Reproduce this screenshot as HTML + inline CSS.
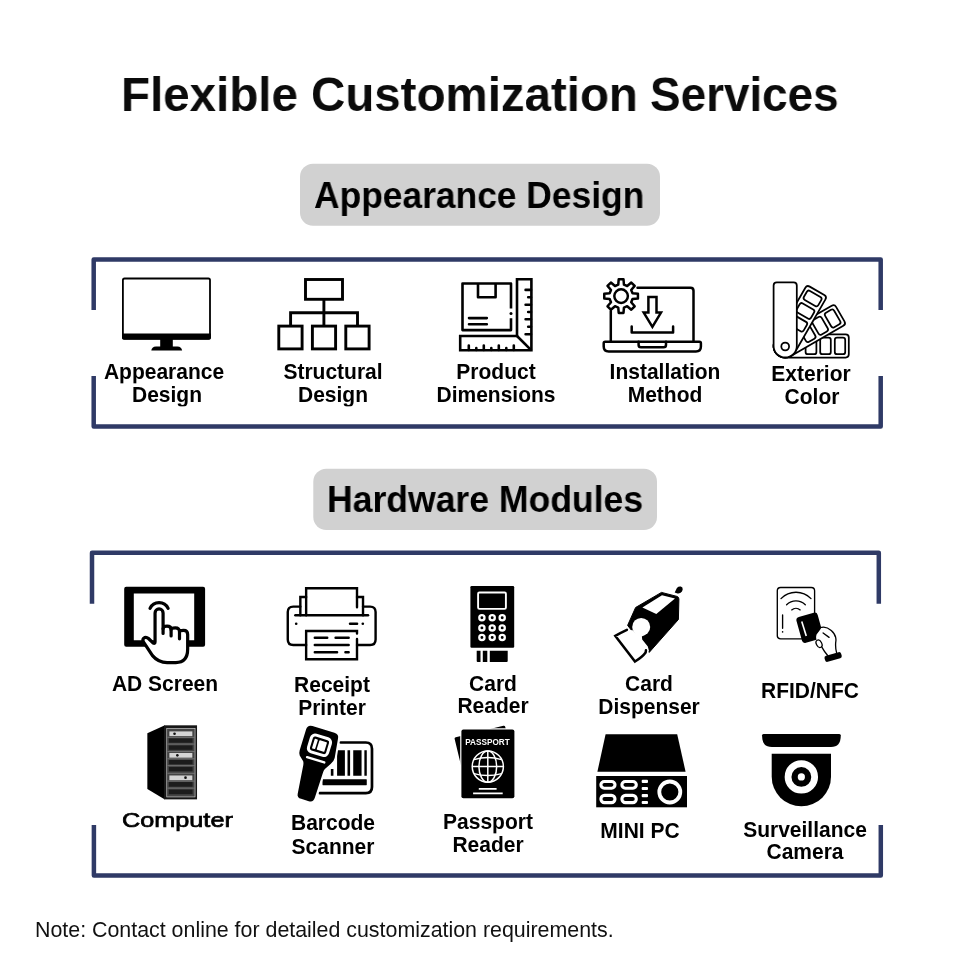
<!DOCTYPE html>
<html><head><meta charset="utf-8"><title>Flexible Customization Services</title>
<style>
html,body{margin:0;padding:0;background:#fff;}
body{width:960px;height:960px;position:relative;overflow:hidden;font-family:"Liberation Sans",sans-serif;color:#000;}
svg.g{position:absolute;left:0;top:0;will-change:transform;}
.t{will-change:transform;position:absolute;white-space:nowrap;line-height:1;transform-origin:0 84.65%;font-weight:700;}
.c{width:200px;text-align:center;transform-origin:50% 84.65%;transform:scaleY(1.035);}
.note{font-weight:400;color:#111;}
.title{color:#0b0b0b;}
.cm{font-weight:400;-webkit-text-stroke:0.7px #000;}
</style></head><body>
<svg class="g" width="960" height="960" viewBox="0 0 960 960">
<!-- frames -->
<g fill="none" stroke="#2f3a66" stroke-width="4.5" stroke-linejoin="round">
<path d="M93.7 310V259.6H880.7V310"/>
<path d="M93.7 376V426.6H880.7V376"/>
<path d="M92 603.8V552.8H878.8V603.8"/>
<path d="M93.9 825V875.6H880.8V825"/>
</g>
<!-- pills -->
<rect x="300" y="163.7" width="360" height="62" rx="13" fill="#d1d1d1"/>
<rect x="313.3" y="468.7" width="343.7" height="61.3" rx="13" fill="#d1d1d1"/>
<!--ROW1-->
<!-- 1 monitor -->
<g>
<rect x="122.9" y="278.5" width="87.1" height="60.2" rx="1.6" fill="#fff" stroke="#000" stroke-width="1.8"/>
<path d="M122 333.4H210.9V338A1.8 1.8 0 0 1 209.1 339.8H123.8A1.8 1.8 0 0 1 122 338Z" fill="#000"/>
<rect x="160.2" y="339" width="12.6" height="8.5" fill="#000"/>
<path d="M151.3 350.6Q151.6 346.6 156 346.4H177.4Q181.8 346.6 182.1 350.6Z" fill="#000"/>
</g>
<!-- 2 structure -->
<g fill="none" stroke="#000" stroke-width="2.9" stroke-linejoin="miter">
<rect x="305.5" y="279.5" width="37" height="19.8"/>
<rect x="278.8" y="326.1" width="23.3" height="22.8"/>
<rect x="312.4" y="326.1" width="23.2" height="22.8"/>
<rect x="345.8" y="326.1" width="23.3" height="22.8"/>
<path d="M323.9 299.3V326M290.6 326V312.7H357.5V326"/>
</g>
<!-- 3 product dimensions -->
<g fill="none" stroke="#000" stroke-width="2.6" stroke-linecap="butt" stroke-linejoin="round">
<path d="M511 308.4V283.5H462.5V330.1H511V318.3"/>
<path d="M478 283.5V297.3H495.6V283.5"/>
<path d="M469 318.1H486.8M469 324.2H486.8" stroke-linecap="round"/>
<circle cx="511" cy="313.6" r="1.5" fill="#000" stroke="none"/>
<path d="M517 279.3H531.4V350.3H460.2V336H517Z" stroke-linejoin="miter"/>
<path d="M517 336L531.4 350.3"/>
<path d="M531 289.9H525.6M531 304.7H525.6M531 319.2H525.6M531 334.3H525.6M531 297.2H528.2M531 312H528.2M531 326.7H528.2" stroke-linecap="round"/>
<path d="M468.8 350V345.5M483.8 350V345.5M498.8 350V345.5M513.8 350V345.5M476.3 350V348.1M491.3 350V348.1M506.3 350V348.1" stroke-linecap="round"/>
</g>
<!-- 4 installation -->
<g fill="none" stroke="#000" stroke-width="2.5" stroke-linejoin="round" stroke-linecap="round">
<path d="M610.8 341V311"/>
<path d="M637.5 287.8H690.5Q693.5 287.8 693.5 290.8V341"/>
<path d="M605.2 341.7H699.4Q700.9 341.7 700.9 343.2V346.5Q700.9 351.5 695.9 351.5H608.7Q603.7 351.5 603.7 346.5V343.2Q603.7 341.7 605.2 341.7Z"/>
<path d="M638.6 341.7V345Q638.6 347.3 641 347.3H663.6Q666 347.3 666 345V341.7"/>
<path d="M618.26 284.65 L618.70 279.27 L623.50 279.27 L623.94 284.65 L627.19 285.99 L631.31 282.51 L634.69 285.89 L631.21 290.01 L632.55 293.26 L637.93 293.70 L637.93 298.50 L632.55 298.94 L631.21 302.19 L634.69 306.31 L631.31 309.69 L627.19 306.21 L623.94 307.55 L623.50 312.93 L618.70 312.93 L618.26 307.55 L615.01 306.21 L610.89 309.69 L607.51 306.31 L610.99 302.19 L609.65 298.94 L604.27 298.50 L604.27 293.70 L609.65 293.26 L610.99 290.01 L607.51 285.89 L610.89 282.51 L615.01 285.99Z"/>
<circle cx="621.1" cy="296.1" r="6.8"/>
<path d="M648.4 297H656.5V312.6H661L652.4 326.8L643.7 312.6H648.4Z" stroke-linejoin="miter"/>
<path d="M631.7 326.5V332.4H673.1V326.5"/>
</g>
<!-- 5 swatches -->
<g fill="none" stroke="#000" stroke-width="1.75" stroke-linejoin="round"><g transform="translate(785.2 345.9) rotate(90)"><path d="M-11.6 0V-60.4Q-11.6 -63.6 -8.4 -63.6H8.4Q11.6 -63.6 11.6 -60.4V0A11.6 11.6 0 0 1 -11.6 0Z" fill="#fff"/><rect x="-8.3" y="-60.0" width="16.6" height="10.4" rx="2.3"/><rect x="-8.3" y="-45.6" width="16.6" height="10.6" rx="2.3"/><rect x="-8.3" y="-31.2" width="16.6" height="10.8" rx="2.3"/></g><g transform="translate(785.2 345.9) rotate(60)"><path d="M-11.6 0V-60.4Q-11.6 -63.6 -8.4 -63.6H8.4Q11.6 -63.6 11.6 -60.4V0A11.6 11.6 0 0 1 -11.6 0Z" fill="#fff"/><rect x="-8.3" y="-60.0" width="16.6" height="10.4" rx="2.3"/><rect x="-8.3" y="-45.6" width="16.6" height="10.6" rx="2.3"/><rect x="-8.3" y="-31.2" width="16.6" height="10.8" rx="2.3"/></g><g transform="translate(785.2 345.9) rotate(30)"><path d="M-11.6 0V-60.4Q-11.6 -63.6 -8.4 -63.6H8.4Q11.6 -63.6 11.6 -60.4V0A11.6 11.6 0 0 1 -11.6 0Z" fill="#fff"/><rect x="-8.3" y="-60.0" width="16.6" height="10.4" rx="2.3"/><rect x="-8.3" y="-45.6" width="16.6" height="10.6" rx="2.3"/><rect x="-8.3" y="-31.2" width="16.6" height="10.8" rx="2.3"/></g><g transform="translate(785.2 345.9) rotate(0)"><path d="M-11.6 0V-60.4Q-11.6 -63.6 -8.4 -63.6H8.4Q11.6 -63.6 11.6 -60.4V0A11.6 11.6 0 0 1 -11.6 0Z" fill="#fff"/><circle cx="0" cy="0.6" r="3.9"/></g></g>
<!--/ROW1-->
<!--ROW2-->
<!-- 6 AD screen -->
<g>
<path fill-rule="evenodd" d="M126.2 586.8H203.1Q205.1 586.8 205.1 588.8V644.7Q205.1 646.7 203.1 646.7H126.2Q124.2 646.7 124.2 644.7V588.8Q124.2 586.8 126.2 586.8ZM133.8 593.5V640.3H194.2V593.5Z" fill="#000"/>
<g transform="translate(135 598) scale(0.072939)" fill="none" stroke="#000" stroke-width="44" stroke-linecap="round" stroke-linejoin="round">
<path d="M206 142A137 137 0 0 1 454 142"/>
<path fill="#fff" d="M275 600V205A55 55 0 0 1 385 205V420Q385 385 440 385Q495 385 495 435Q497 410 552 410Q610 410 610 465Q612 445 666 445Q722 445 722 500V700Q722 885 560 885H440Q320 885 240 790L122 612Q95 575 120 550Q150 525 185 555L250 618Q275 630 275 600Z"/>
<path d="M385 420V485M495 435V520M610 465V560"/>
</g>
</g>
<!-- 7 printer -->
<g transform="translate(280 580) scale(0.109375)" fill="none" stroke="#000" stroke-width="22" stroke-linecap="round" stroke-linejoin="round">
<path d="M186 243H121Q71 243 71 293V544Q71 594 121 594H239"/>
<path d="M759 243H824Q874 243 874 293V544Q874 594 824 594H704"/>
<path d="M239 322V76H704V250" stroke-linejoin="miter"/>
<path d="M186 322V156H239M704 156H759V322" stroke-linejoin="miter"/>
<path d="M140 322H805"/>
<path d="M704 490V466H239V724H704V540" stroke-linejoin="miter"/>
<path d="M640 400H705"/>
<circle cx="148" cy="400" r="12" fill="#000" stroke="none"/>
<circle cx="757" cy="400" r="12" fill="#000" stroke="none"/>
<path d="M318 528H432M508 528H628M318 594H628M318 660H522M598 660H628"/>
</g>
<!-- 8 card reader -->
<g>
<rect x="470.4" y="586" width="43.8" height="61.8" rx="1.2" fill="#000"/>
<rect x="478.1" y="592.5" width="27.8" height="16.4" rx="1.3" fill="none" stroke="#fff" stroke-width="1.9"/>
<g fill="none" stroke="#fff" stroke-width="2.3">
<circle cx="481.9" cy="617.8" r="2.6"/><circle cx="492.2" cy="617.8" r="2.6"/><circle cx="502.2" cy="617.8" r="2.6"/>
<circle cx="481.9" cy="627.9" r="2.6"/><circle cx="492.2" cy="627.9" r="2.6"/><circle cx="502.2" cy="627.9" r="2.6"/>
<circle cx="481.9" cy="637.5" r="2.6"/><circle cx="492.2" cy="637.5" r="2.6"/><circle cx="502.2" cy="637.5" r="2.6"/>
</g>
<path d="M476.7 650.7H480.5V661.9H477.7Q476.7 661.9 476.7 660.9ZM482.8 650.7H487.3V661.9H482.8ZM489.8 650.7H507.7V660.9Q507.7 661.9 506.7 661.9H489.8Z" fill="#000"/>
</g>
<!-- 9 card dispenser -->
<g>
<path d="M661.5 592.4L677 596.4Q678.9 597 678.9 599L678.4 619.5L649.2 652.4L627.6 625.4L635.6 607.5Z" fill="#000" stroke="#000" stroke-width="1" stroke-linejoin="round"/>
<path d="M642.4 607.5L662 595.3L675 598.6L656.3 613.9Z" fill="#fff"/>
<circle cx="641.2" cy="626.9" r="9" fill="#fff"/>
<g transform="translate(610 610) scale(0.0625)">
<path d="M85 415L270 315L365 325L420 380L560 390L510 425L515 470L605 585L625 660L575 690L400 825Z" fill="#fff"/>
<path d="M270 318Q170 365 85 415L400 825Q520 750 570 680L575 645" fill="none" stroke="#000" stroke-width="40" stroke-linecap="round" stroke-linejoin="miter"/>
</g>
<path d="M674.7 592.6L676.9 588Q678.6 586.2 680.8 586.6Q683 587.2 682.7 589.6Q682.3 591.8 680.6 592.8Q678.6 593.9 676.8 593.2Z" fill="#000"/>
</g>
<!-- 10 RFID -->
<g>
<g fill="none" stroke="#000" stroke-width="1.35" stroke-linecap="round">
<rect x="777.3" y="587.5" width="37.3" height="51.3" rx="3.3"/>
<path d="M781 598.6A21 21 0 0 1 811 598.6"/>
<path d="M786.6 604.7A13.5 13.5 0 0 1 805.3 604.7"/>
<path d="M791.7 609.9A6.5 6.5 0 0 1 800.2 609.9"/>
<path d="M782.6 615V628.2"/>
<circle cx="782.6" cy="631.9" r="0.8" fill="#000" stroke="none"/>
</g>
<g transform="translate(795 608) scale(0.0625)">
<rect x="-176" y="-214" width="352" height="428" rx="52" transform="translate(237 316) rotate(-15.5)" fill="#000"/>
<path d="M108 215L180 448" stroke="#fff" stroke-width="26" stroke-linecap="butt" fill="none"/>
<path d="M425 310Q500 290 580 360Q660 430 655 520Q640 620 665 715L520 755Q470 700 435 630Q400 650 360 610Q320 560 345 510Q330 470 345 425Q380 380 425 310Z" fill="#fff"/>
<g fill="none" stroke="#000" stroke-width="21" stroke-linecap="round" stroke-linejoin="round">
<path d="M425 310Q500 290 580 360Q660 430 655 520Q640 620 665 715"/>
<path d="M450 400L545 470"/>
<ellipse cx="385" cy="572" rx="42" ry="64" transform="rotate(-28 385 572)"/>
<path d="M432 630Q470 700 520 755"/>
</g>
<rect x="-138" y="-50" width="276" height="100" rx="34" transform="translate(610 784) rotate(-16)" fill="#000"/>
</g>
</g>
<!--/ROW2-->
<!--ROW3-->
<!-- 11 computer -->
<g transform="translate(130 715) scale(0.09375)">
<path d="M185 195L372 110V900L185 790Z" fill="#000"/>
<rect x="365" y="110" width="350" height="790" fill="#161616"/>
<rect x="392" y="142" width="302" height="732" fill="#444" stroke="#d0d0d0" stroke-width="7"/>
<g fill="#1c1c1c">
<rect x="415" y="250" width="252" height="46"/><rect x="415" y="325" width="252" height="46"/>
<rect x="415" y="480" width="252" height="46"/><rect x="415" y="555" width="252" height="46"/>
<rect x="415" y="715" width="252" height="50"/><rect x="415" y="795" width="252" height="50"/>
</g>
<g fill="#d4d4d4">
<rect x="420" y="175" width="245" height="50"/><rect x="420" y="405" width="245" height="50"/><rect x="420" y="645" width="245" height="50"/>
</g>
<g stroke="#8a8a8a" stroke-width="7">
<path d="M400 238H690M400 310H690M400 390H690M400 467H690M400 540H690M400 622H690M400 705H690M400 780H690"/>
</g>
<circle cx="475" cy="200" r="14" fill="#111"/><circle cx="505" cy="430" r="14" fill="#111"/><circle cx="592" cy="668" r="14" fill="#111"/>
</g>
<!-- 12 barcode scanner -->
<g>
<g transform="translate(285 718) scale(0.1041667)">
<path d="M535 235H776Q835 235 835 294V663Q835 722 776 722H335" fill="none" stroke="#000" stroke-width="26" stroke-linecap="round"/>
<path d="M500 310H575V555H500ZM600 310H625V555H600ZM655 310H735V555H655ZM762 310H785V555H762ZM440 490H465V555H440Z" fill="#000"/>
<rect x="360" y="588" width="425" height="57" rx="4" fill="#000"/>
</g>
<g transform="translate(323.9 729.5) rotate(17)">
<path id="scn" d="M-12 0H11Q16 0 16.2 5L18.6 24Q18.8 28 16.5 31L12.5 37.5Q11.7 39 11.7 41L11.3 68Q11.3 73 6.5 73H-1.5Q-6 73 -6.3 69L-9.3 40Q-9.5 38 -10.5 36.5L-15.5 32Q-17 30 -17.05 27V5Q-17 0 -12 0Z" fill="#000" stroke="#fff" stroke-width="4"/>
<path d="M-12 0H11Q16 0 16.2 5L18.6 24Q18.8 28 16.5 31L12.5 37.5Q11.7 39 11.7 41L11.3 68Q11.3 73 6.5 73H-1.5Q-6 73 -6.3 69L-9.3 40Q-9.5 38 -10.5 36.5L-15.5 32Q-17 30 -17.05 27V5Q-17 0 -12 0Z" fill="#000"/>
<rect x="-9.55" y="7.7" width="19.9" height="17.4" rx="3.8" fill="none" stroke="#fff" stroke-width="3"/>
<rect x="-6" y="11.4" width="3.3" height="10" rx="0.6" fill="#fff"/>
<rect x="-1.1" y="11.4" width="7.9" height="10" rx="0.6" fill="#fff"/>
<path d="M-8 31.4H10" stroke="#fff" stroke-width="2.4" stroke-linecap="round"/>
</g>
</g>
<!-- 13 passport -->
<g>
<clipPath id="ppc"><path d="M440 715H530V729.4H461.4V790H440Z"/></clipPath><g clip-path="url(#ppc)"><rect x="0" y="0" width="52" height="68.9" rx="1.5" transform="translate(454.3 737.5) rotate(-13.5)" fill="#000"/></g>
<rect x="461.4" y="729.4" width="53" height="68.9" rx="2" fill="#000" stroke="#fff" stroke-width="2.4"/>
<rect x="461.4" y="729.4" width="53" height="68.9" rx="2" fill="#000"/>
<text x="487.5" y="745.3" font-family="Liberation Sans, sans-serif" font-weight="700" font-size="8.8" fill="#fff" text-anchor="middle" textLength="44.5" lengthAdjust="spacingAndGlyphs">PASSPORT</text>
<g fill="none" stroke="#fff" stroke-width="1.5">
<circle cx="487.8" cy="766.6" r="15.6"/>
<ellipse cx="487.8" cy="766.6" rx="8.9" ry="15.6"/>
<path d="M487.8 751V782.2M472.2 766.6H503.4"/>
<path d="M474 759.6Q487.8 755.6 501.6 759.6M474 773.6Q487.8 777.6 501.6 773.6"/>
</g>
<path d="M478.8 788.9H496.6M473.1 793.3H502.7" stroke="#fff" stroke-width="1.7" fill="none"/>
</g>
<!-- 14 mini pc -->
<g>
<path d="M605.6 734.2H677.2L685.6 771.8H597.4Z" fill="#000"/>
<rect x="596.2" y="776" width="90.8" height="31.3" fill="#000"/>
<g fill="none" stroke="#fff" stroke-width="3.1">
<rect x="600.9" y="781.5" width="14.1" height="6.7" rx="3.35"/>
<rect x="621.9" y="781.5" width="14.4" height="6.7" rx="3.35"/>
<rect x="600.9" y="795.4" width="14.1" height="7.2" rx="3.6"/>
<rect x="621.9" y="795.4" width="14.4" height="7.2" rx="3.6"/>
<circle cx="669.8" cy="792" r="10.5" stroke-width="3.8"/>
</g>
<g fill="#fff">
<rect x="641.7" y="779.8" width="6.3" height="3.1" rx="1"/><rect x="641.7" y="786.9" width="6.3" height="3.2" rx="1"/><rect x="641.7" y="794" width="6.3" height="3.2" rx="1"/><rect x="641.7" y="800.9" width="6.3" height="3.2" rx="1"/>
</g>
</g>
<!-- 15 camera -->
<g>
<path d="M763.5 734H839.3Q840.8 734 840.8 735.5Q840.8 747 831 747H771.8Q762 747 762 735.5Q762 734 763.5 734Z" fill="#000"/>
<path d="M771.7 753.8H831V776.7A29.65 29.65 0 0 1 771.7 776.7Z" fill="#000"/>
<circle cx="801.35" cy="776.9" r="13.3" fill="none" stroke="#fff" stroke-width="6.8"/>
<circle cx="801.35" cy="776.9" r="3.6" fill="#fff"/>
</g>
<!--/ROW3-->
</svg>
<div class="t title" id="t0" style="left:121.31px;top:70.32px;font-size:49.00px;transform:scale(0.9695,1)">Flexible</div>
<div class="t title" id="t1" style="left:310.87px;top:70.32px;font-size:49.00px;transform:scale(0.9686,1)">Customization</div>
<div class="t title" id="t2" style="left:650.20px;top:70.32px;font-size:49.00px;transform:scale(0.9360,1)">Services</div>
<div class="t h" id="t3" style="left:314.41px;top:177.87px;font-size:36.30px;transform:scale(0.9747,1)">Appearance Design</div>
<div class="t h" id="t4" style="left:327.26px;top:482.07px;font-size:36.30px;transform:scale(0.9796,1)">Hardware Modules</div>
<div class="t c lb" id="t5" style="left:63.65px;top:360.52px;font-size:21.00px">Appearance</div>
<div class="t c lb" id="t6" style="left:66.70px;top:383.92px;font-size:21.00px">Design</div>
<div class="t c lb" id="t7" style="left:233.00px;top:360.52px;font-size:21.00px">Structural</div>
<div class="t c lb" id="t8" style="left:233.30px;top:383.92px;font-size:21.00px">Design</div>
<div class="t c lb" id="t9" style="left:396.35px;top:360.52px;font-size:21.00px">Product</div>
<div class="t c lb" id="t10" style="left:395.50px;top:383.92px;font-size:21.00px">Dimensions</div>
<div class="t c lb" id="t11" style="left:565.00px;top:360.52px;font-size:21.00px">Installation</div>
<div class="t c lb" id="t12" style="left:565.00px;top:383.92px;font-size:21.00px">Method</div>
<div class="t c lb" id="t13" style="left:711.40px;top:363.02px;font-size:21.00px">Exterior</div>
<div class="t c lb" id="t14" style="left:711.70px;top:386.42px;font-size:21.00px">Color</div>
<div class="t c lb" id="t15" style="left:65.00px;top:673.22px;font-size:21.00px">AD Screen</div>
<div class="t c lb" id="t16" style="left:231.65px;top:673.92px;font-size:21.00px">Receipt</div>
<div class="t c lb" id="t17" style="left:232.15px;top:696.52px;font-size:21.00px">Printer</div>
<div class="t c lb" id="t18" style="left:392.50px;top:672.92px;font-size:21.00px">Card</div>
<div class="t c lb" id="t19" style="left:392.50px;top:695.32px;font-size:21.00px">Reader</div>
<div class="t c lb" id="t20" style="left:548.90px;top:673.42px;font-size:21.00px">Card</div>
<div class="t c lb" id="t21" style="left:549.20px;top:696.22px;font-size:21.00px">Dispenser</div>
<div class="t c lb" id="t22" style="left:709.75px;top:679.72px;font-size:21.00px">RFID/NFC</div>
<div class="t cm" id="t23" style="left:121.94px;top:809.69px;font-size:20.80px;transform:scale(1.2137,1)">Computer</div>
<div class="t c lb" id="t24" style="left:233.35px;top:812.22px;font-size:21.00px">Barcode</div>
<div class="t c lb" id="t25" style="left:233.35px;top:835.52px;font-size:21.00px">Scanner</div>
<div class="t c lb" id="t26" style="left:387.85px;top:811.42px;font-size:21.00px">Passport</div>
<div class="t c lb" id="t27" style="left:388.00px;top:834.12px;font-size:21.00px">Reader</div>
<div class="t c lb" id="t28" style="left:539.50px;top:820.12px;font-size:21.00px">MINI PC</div>
<div class="t c lb" id="t29" style="left:704.75px;top:818.52px;font-size:21.00px">Surveillance</div>
<div class="t c lb" id="t30" style="left:704.65px;top:841.42px;font-size:21.00px">Camera</div>
<div class="t note" id="t31" style="left:35.19px;top:918.65px;font-size:21.20px;transform:scale(1.0088,1.04)">Note: Contact online for detailed customization requirements.</div>
</body></html>
